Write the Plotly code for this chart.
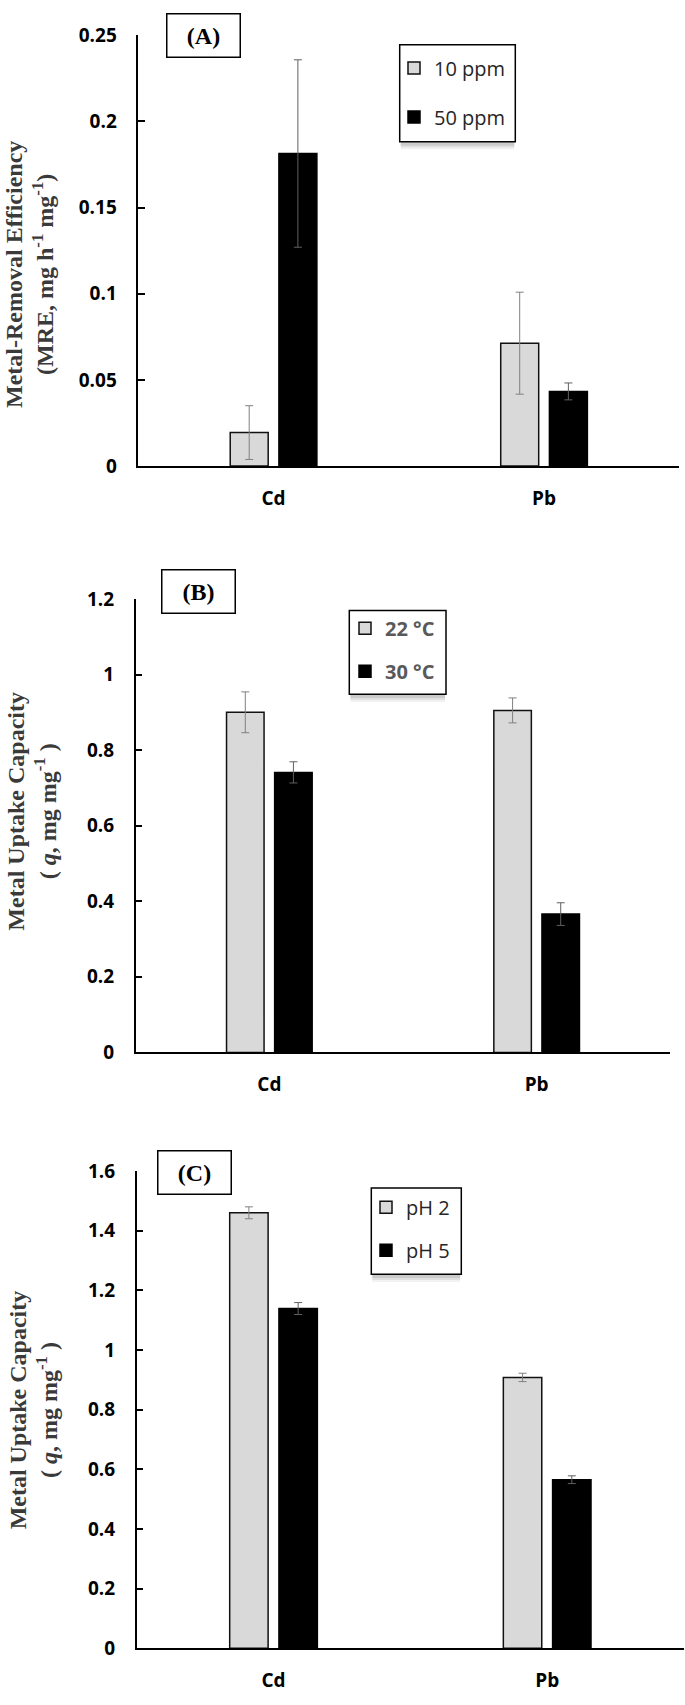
import plotly.graph_objects as go

W, H = 685, 1705

# ---------------- data ----------------
categories = ["Cd", "Pb"]

# (A) Metal-removal efficiency
mre_10ppm = [0.0194, 0.0713]
mre_10ppm_err = [0.0156, 0.0296]
mre_50ppm = [0.1814, 0.0433]
mre_50ppm_err = [0.0544, 0.0049]

# (B) Metal uptake capacity vs temperature
q_22C = [0.900, 0.905]
q_22C_err = [0.054, 0.033]
q_30C = [0.741, 0.366]
q_30C_err = [0.028, 0.030]

# (C) Metal uptake capacity vs pH
q_pH2 = [1.460, 0.908]
q_pH2_err = [0.020, 0.014]
q_pH5 = [1.139, 0.565]
q_pH5_err = [0.020, 0.013]

yticks_A = [0, 0.05, 0.1, 0.15, 0.2, 0.25]
yticks_B = [0, 0.2, 0.4, 0.6, 0.8, 1, 1.2]
yticks_C = [0, 0.2, 0.4, 0.6, 0.8, 1, 1.2, 1.4, 1.6]

series_names_A = ["10 ppm", "50 ppm"]
series_names_B = ["22 °C", "30 °C"]
series_names_C = ["pH 2", "pH 5"]

# ---------------- styling ----------------
LIGHT = "#D9D9D9"
DARK = "#000000"
ERR = "#808080"
SANS = "Open Sans"
SERIF = "Liberation Serif"


def px_x(p):
    return p / W


def px_y(p):
    return 1 - p / H


fig = go.Figure()

panels = [
    ("", (mre_10ppm, mre_10ppm_err, mre_50ppm, mre_50ppm_err), series_names_A, "legend"),
    ("2", (q_22C, q_22C_err, q_30C, q_30C_err), series_names_B, "legend2"),
    ("3", (q_pH2, q_pH2_err, q_pH5, q_pH5_err), series_names_C, "legend3"),
]

for suffix, (v1, e1, v2, e2), names, leg in panels:
    xa = "x" + suffix
    ya = "y" + suffix
    fig.add_trace(go.Bar(
        x=categories, y=v1, name=names[0], xaxis=xa, yaxis=ya,
        marker=dict(color=LIGHT, line=dict(color="#111111", width=1.5)),
        error_y=dict(type="data", array=e1, visible=True, color=ERR, thickness=1, width=4),
        legend=leg, legendgroup=leg + "a",
    ))
    fig.add_trace(go.Bar(
        x=categories, y=v2, name=names[1], xaxis=xa, yaxis=ya,
        marker=dict(color=DARK, line=dict(color="#000000", width=1.5)),
        error_y=dict(type="data", array=e2, visible=True, color="#606060", thickness=1, width=4),
        legend=leg, legendgroup=leg + "b",
    ))

# axis geometry (pixels from the reference)
geo = {
    "": dict(x0=138.3, x1=679.3, ytop=22.7, ybot=460.0, rng=0.25, ticks=yticks_A),
    "2": dict(x0=135.7, x1=670.3, ytop=595.0, ybot=1055.5, rng=1.2, ticks=yticks_B),
    "3": dict(x0=136.7, x1=684.0, ytop=1176.0, ybot=1660.5, rng=1.6, ticks=yticks_C),
}

tickfont = dict(family=SANS, size=19, color="#000000", weight="bold")

for suffix, g in geo.items():
    xk = "xaxis" + suffix
    yk = "yaxis" + suffix
    fig.update_layout(**{
        xk: dict(
            domain=[px_x(g["x0"]), px_x(g["x1"])],
            anchor="y" + suffix,
            type="category",
            range=[-0.5, 1.5],
            showline=True, linecolor="#000000", linewidth=1.5,
            ticks="", showgrid=False, zeroline=False,
            tickfont=tickfont, ticklabelstandoff=14,
        ),
        yk: dict(
            domain=[px_y(g["ybot"]), px_y(g["ytop"])],
            anchor="x" + suffix,
            range=[0, g["rng"]],
            tickvals=g["ticks"],
            ticks="inside", ticklen=7, tickwidth=1.5, tickcolor="#000000",
            showline=True, linecolor="#000000", linewidth=1.5,
            showgrid=False, zeroline=False,
            tickfont=tickfont, ticklabelstandoff=16,
        ),
    })

# legend frames (box + soft shadow) in reference pixel positions
legend_boxes = [
    dict(x0=399.7, x1=515.3, y0=32.3, y1=130.7),
    dict(x0=349.3, x1=446.0, y0=606.7, y1=691.7),
    dict(x0=371.3, x1=461.3, y0=1193.3, y1=1280.7),
]
shapes = []
for b in legend_boxes:
    for k, alpha in enumerate([0.05, 0.07, 0.09]):
        d = 8 - 2 * k
        shapes.append(dict(
            type="rect", xref="paper", yref="paper", layer="above",
            x0=px_x(b["x0"] + 1), x1=px_x(b["x1"] - 1),
            y0=px_y(b["y1"] + d), y1=px_y(b["y1"] - 4),
            fillcolor="rgba(0,0,0,%.2f)" % alpha, line=dict(width=0),
        ))
    shapes.append(dict(
        type="rect", xref="paper", yref="paper", layer="above",
        x0=px_x(b["x0"]), x1=px_x(b["x1"]), y0=px_y(b["y1"]), y1=px_y(b["y0"]),
        fillcolor="#FFFFFF", line=dict(color="#000000", width=1.5),
    ))

legend_common = dict(
    xanchor="left", yanchor="top",
    bgcolor="rgba(0,0,0,0)", borderwidth=0,
    orientation="v", itemwidth=30,
)
fig.update_layout(
    legend=dict(x=px_x(394), y=px_y(36), tracegroupgap=20,
                font=dict(family=SANS, size=20, color="#262626"), **legend_common),
    legend2=dict(x=px_x(345), y=px_y(605), tracegroupgap=14,
                 font=dict(family=SANS, size=20, color="#595959", weight="bold"), **legend_common),
    legend3=dict(x=px_x(366), y=px_y(1193), tracegroupgap=14,
                 font=dict(family=SANS, size=20, color="#262626"), **legend_common),
)

# y-axis titles
titles = [
    ("Metal-Removal Efficiency<br>(MRE, mg h<sup>-1</sup> mg<sup>-1</sup>)", 30, 266),
    ("Metal Uptake Capacity<br>( <i>q</i>, mg mg<sup>-1</sup> )", 32, 811),
    ("Metal Uptake Capacity<br>( <i>q</i>, mg mg<sup>-1</sup> )", 33, 1419),
]
annotations = []
for text, cx, cy in titles:
    annotations.append(dict(
        text=text, xref="paper", yref="paper", x=px_x(cx), y=px_y(cy),
        xanchor="center", yanchor="middle", textangle=-90, showarrow=False,
        font=dict(family=SERIF, size=24, color="#3a3a3a", weight="bold"),
    ))

# panel label boxes
labels = [("(A)", 203.5, 22.7), ("(B)", 198.7, 587.2), ("(C)", 194.8, 1177.0)]
for text, cx, cy in labels:
    annotations.append(dict(
        text="<b>" + text + "</b>", xref="paper", yref="paper", x=px_x(cx), y=px_y(cy),
        xanchor="center", yanchor="middle", showarrow=False,
        font=dict(family=SERIF, size=24, color="#000000"),
        bordercolor="#000000", borderwidth=1.5, borderpad=2, bgcolor="#FFFFFF",
        width=68, height=38,
    ))

fig.update_layout(
    width=W, height=H, autosize=False,
    margin=dict(l=0, r=0, t=0, b=0),
    paper_bgcolor="#FFFFFF", plot_bgcolor="#FFFFFF",
    barmode="group", bargap=0.64, bargroupgap=0.22,
    annotations=annotations, shapes=shapes,
    showlegend=True,
)

fig.write_html("out.html", config={"displayModeBar": False},
               post_script="document.body.style.margin='0';")
